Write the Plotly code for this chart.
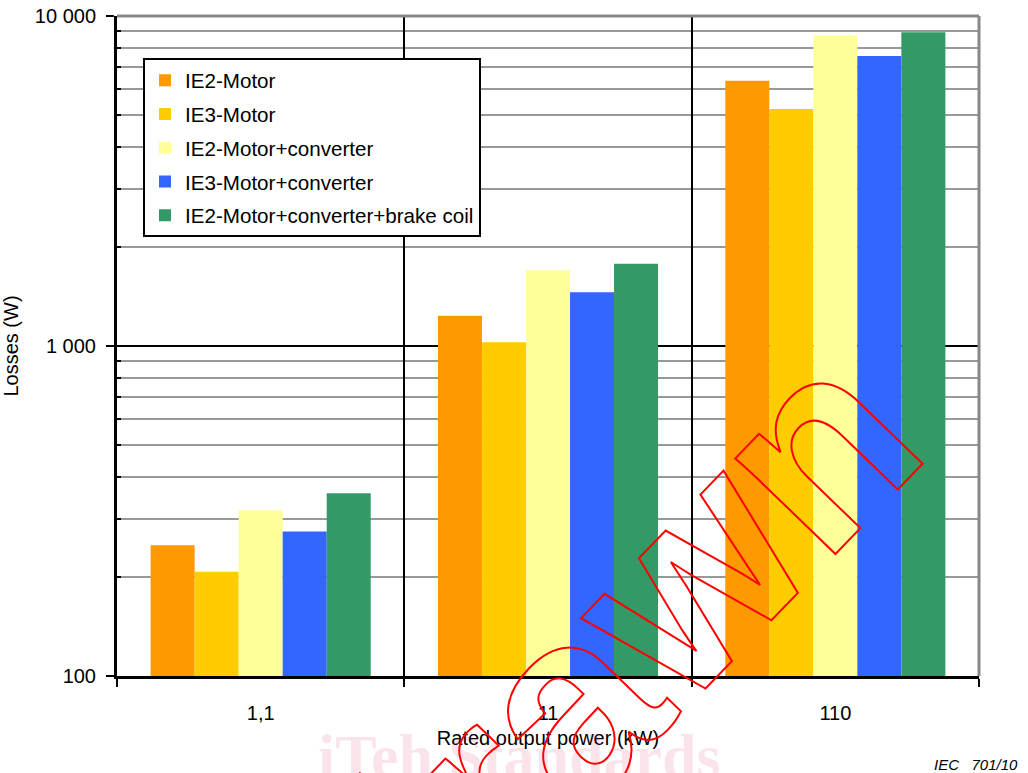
import plotly.graph_objects as go

categories = ["1,1", "11", "110"]
series_names = ["IE2-Motor", "IE3-Motor", "IE2-Motor+converter",
                "IE3-Motor+converter", "IE2-Motor+converter+brake coil"]
ie2_motor = [249, 1236, 6370]
ie3_motor = [207, 1026, 5230]
ie2_conv = [318, 1696, 8740]
ie3_conv = [274, 1454, 7570]
ie2_conv_brake = [358, 1776, 8930]
series_values = [ie2_motor, ie3_motor, ie2_conv, ie3_conv, ie2_conv_brake]
colors = ["#FF9900", "#FFCC00", "#FFFF99", "#3366FF", "#339966"]

y_tickvals = [100, 1000, 10000]
y_ticktext = ["100", "1 000", "10 000"]
y_minor = [200, 300, 400, 500, 600, 700, 800, 900,
           2000, 3000, 4000, 5000, 6000, 7000, 8000, 9000]

FONT = "Liberation Sans, Arial, sans-serif"

fig = go.Figure()
for i, (name, vals) in enumerate(zip(series_names, series_values)):
    fig.add_trace(go.Bar(
        x=categories, y=vals, name=name, legendgroup=name,
        marker=dict(color=colors[i], line=dict(width=0)),
    ))

fig.update_layout(
    width=1028, height=773,
    margin=dict(l=117, r=49, t=16, b=97, autoexpand=False),
    paper_bgcolor="white", plot_bgcolor="white",
    barmode="group", bargap=0.234, bargroupgap=0,
    font=dict(family=FONT, size=20, color="black"),
    showlegend=True,
    legend=dict(
        x=(143 - 117) / 862, y=0.936, xanchor="left", yanchor="top",
        bgcolor="white", bordercolor="black", borderwidth=2,
        font=dict(size=20.6), tracegroupgap=4, itemwidth=30,
    ),
    xaxis=dict(
        type="category", tickson="boundaries", automargin=False,
        ticks="outside", ticklen=8, tickwidth=2, tickcolor="black",
        showline=True, linecolor="black", linewidth=3,
        showgrid=True, gridcolor="black", gridwidth=2,
        tickfont=dict(size=20), ticklabelstandoff=17,
        title=dict(text="Rated output power (kW)", font=dict(size=20), standoff=8),
        range=[-0.5, 2.5],
    ),
    yaxis=dict(
        type="log", range=[2, 4], automargin=False,
        tickmode="array", tickvals=y_tickvals, ticktext=y_ticktext,
        ticks="outside", ticklen=8, tickwidth=2, tickcolor="black",
        showline=True, linecolor="black", linewidth=3,
        showgrid=True, gridcolor="black", gridwidth=2,
        tickfont=dict(size=20), ticklabelstandoff=6,
        title=dict(text="Losses (W)", font=dict(size=20), standoff=12),
        minor=dict(tickmode="array", tickvals=y_minor, ticks="inside",
                   ticklen=4, tickwidth=2, tickcolor="black",
                   showgrid=True, gridcolor="#999999", gridwidth=2),
    ),
    shapes=[
        dict(type="line", xref="paper", yref="paper", x0=0, x1=1, y0=1, y1=1,
             line=dict(color="#888888", width=3)),
        dict(type="line", xref="paper", yref="paper", x0=1, x1=1, y0=0, y1=1,
             line=dict(color="#888888", width=3)),
    ],
    annotations=[
        dict(text="iTeh Standards", xref="paper", yref="paper",
             x=0.4675, y=-0.121, xanchor="center", yanchor="middle",
             showarrow=False,
             font=dict(family="Liberation Serif, serif", size=62,
                       color="rgba(222,22,80,0.12)", weight="bold")),
        dict(text="IEC   701/10", xref="paper", yref="paper",
             x=(1020 - 117) / 862, y=(676 - 764) / 660,
             xanchor="right", yanchor="middle", showarrow=False,
             font=dict(size=15, style="italic")),
        dict(text="Withdrawn", xref="paper", yref="paper",
             x=0.334, y=-0.293, xanchor="center", yanchor="middle",
             showarrow=False, textangle=-46,
             font=dict(family=FONT, size=262, color="red", weight="bold")),
    ],
)

post = """
document.body.style.margin = '0';
document.body.style.padding = '0';
document.documentElement.style.overflow = 'hidden';
var gd = document.getElementById('{plot_id}');
function wm() {
  document.querySelectorAll('.annotation-text').forEach(function (t) {
    if (t.textContent === 'Withdrawn') {
      t.style.fill = 'none';
      t.style.stroke = '#ff0000';
      t.style.strokeWidth = '2px';
    }
  });
}
wm();
if (gd && gd.on) { gd.on('plotly_afterplot', wm); }
setTimeout(wm, 50);
setTimeout(wm, 300);
"""

fig.write_html("out.html", post_script=post, config={"displayModeBar": False})
